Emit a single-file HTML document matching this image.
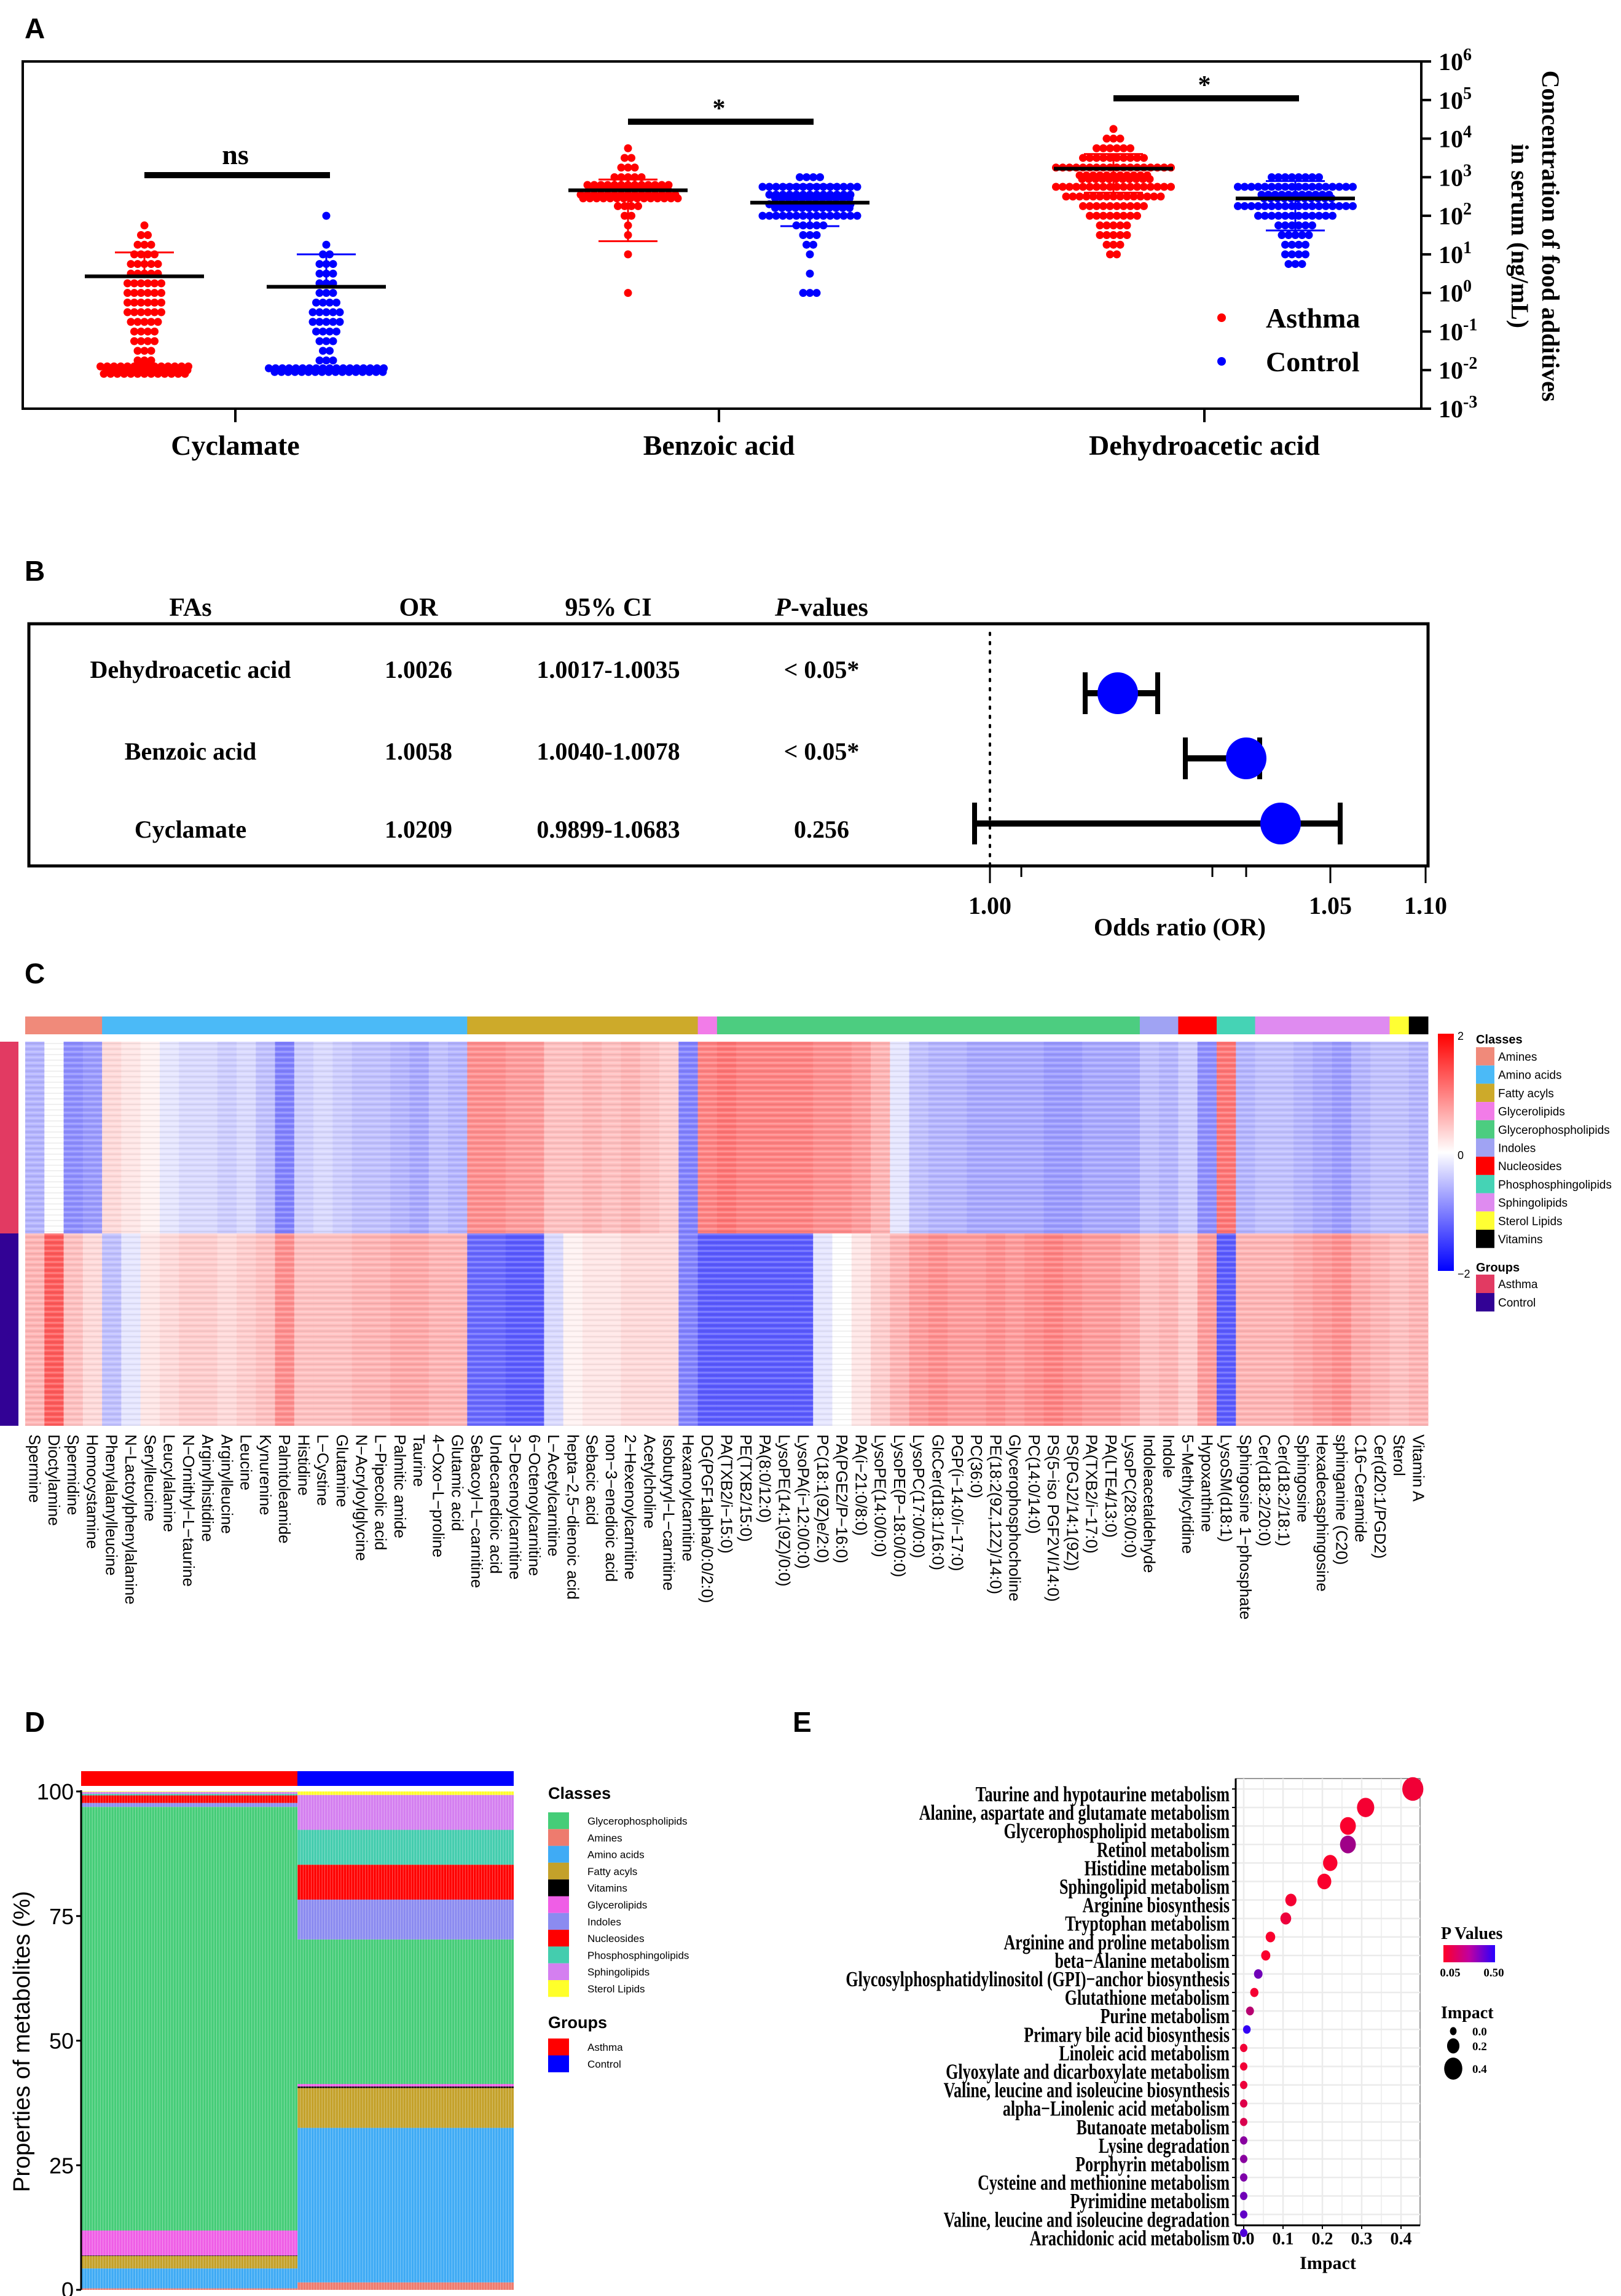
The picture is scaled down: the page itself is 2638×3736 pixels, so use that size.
<!DOCTYPE html>
<html><head><meta charset="utf-8"><style>
html,body{margin:0;padding:0;background:#fff;}
svg{display:block;}
.serif{font-family:"Liberation Serif",serif;font-weight:bold;}
.sans{font-family:"Liberation Sans",sans-serif;}
</style></head>
<body>
<svg id="fig" xmlns="http://www.w3.org/2000/svg" width="2638" height="3736" viewBox="0 0 2638 3736"></svg>
<script>
// ===== Panel A data =====
const aCategories = ["Cyclamate","Benzoic acid","Dehydroacetic acid"];
const aBinLogs = [-2,-1.75,-1.5,-1.25,-1,-0.75,-0.5,-0.25,0,0.25,0.5,0.75,1,1.25,1.5,1.75,2,2.25,2.5,2.75,3,3.25,3.5,3.75,4,4.25];
const cycAsthmaCounts = [40,3,3,4,4,5,6,6,6,6,5,5,4,3,2,1,0,0,0,0,0,0,0,0,0,0];
const cycControlCounts = [35,3,2,3,4,5,5,4,3,3,3,3,2,1,0,0,1,0,0,0,0,0,0,0,0,0];
const benAsthmaCounts = [0,0,0,0,0,0,0,0,1,0,0,0,1,0,1,1,2,4,30,25,5,3,2,1,0,0];
const benControlCounts = [0,0,0,0,0,0,0,0,3,0,1,0,1,2,3,5,15,25,25,15,4,0,0,0,0,0];
const dhaAsthmaCounts = [0,0,0,0,0,0,0,0,0,0,0,0,2,3,5,5,8,10,15,18,22,18,10,6,3,1];
const dhaControlCounts = [0,0,0,0,0,0,0,0,0,0,0,3,4,4,5,6,12,18,22,18,8,0,0,0,0,0];
const aMeans = [[0.43,0.16],[2.66,2.34],[3.22,2.45]];
const aUpper = [[1.05,1.0],[2.94,2.8],[3.6,2.9]];
const aLower = [[-4,-4],[1.34,1.73],[2.6,1.62]];
const aSig = ["ns","*","*"];
const aYTicks = [6,5,4,3,2,1,0,-1,-2,-3];

// ===== Panel B data =====
const bNames = ["Dehydroacetic acid","Benzoic acid","Cyclamate"];
const bOR = [1.0026,1.0058,1.0209];
const bLow = [1.0017,1.0040,0.9899];
const bHigh = [1.0035,1.0078,1.0683];
const bORText = ["1.0026","1.0058","1.0209"];
const bCIText = ["1.0017-1.0035","1.0040-1.0078","0.9899-1.0683"];
const bPText = ["< 0.05*","< 0.05*","0.256"];
const bTickVals = [1.0,1.00056,1.0048,1.0058,1.05,1.10];
const bTickLabels = ["1.00","","","","1.05","1.10"];

// ===== Panel C data =====
const cClasses = ["Amines","Amino acids","Fatty acyls","Glycerolipids","Glycerophospholipids","Indoles","Nucleosides","Phosphosphingolipids","Sphingolipids","Sterol Lipids","Vitamins"];
const cClassCounts = [4,19,12,1,22,2,2,2,7,1,1];
const cMetabolites = ["Spermine","Dioctylamine","Spermidine","Homocystamine","Phenylalanylleucine","N\u2212Lactoylphenylalanine","Serylleucine","Leucylalanine","N\u2212Ornithyl\u2212L\u2212taurine","Arginylhistidine","Arginylleucine","Leucine","Kynurenine","Palmitoleamide","Histidine","L\u2212Cystine","Glutamine","N\u2212Acryloylglycine","L\u2212Pipecolic acid","Palmitic amide","Taurine","4\u2212Oxo\u2212L\u2212proline","Glutamic acid","Sebacoyl\u2212L\u2212carnitine","Undecanedioic acid","3\u2212Decenoylcarnitine","6\u2212Octenoylcarnitine","L\u2212Acetylcarnitine","hepta\u22122,5\u2212dienoic acid","Sebacic acid","non\u22123\u2212enedioic acid","2\u2212Hexenoylcarnitine","Acetylcholine","Isobutyryl\u2212L\u2212carnitine","Hexanoylcarnitine","DG(PGF1alpha/0:0/2:0)","PA(TXB2/i\u221215:0)","PE(TXB2/15:0)","PA(8:0/12:0)","LysoPE(14:1(9Z)/0:0)","LysoPA(i\u221212:0/0:0)","PC(18:1(9Z)e/2:0)","PA(PGE2/P\u221216:0)","PA(i\u221221:0/8:0)","LysoPE(14:0/0:0)","LysoPE(P\u221218:0/0:0)","LysoPC(17:0/0:0)","GlcCer(d18:1/16:0)","PGP(i\u221214:0/i\u221217:0)","PC(36:0)","PE(18:2(9Z,12Z)/14:0)","Glycerophosphocholine","PC(14:0/14:0)","PS(5\u2212iso PGF2VI/14:0)","PS(PGJ2/14:1(9Z))","PA(TXB2/i\u221217:0)","PA(LTE4/13:0)","LysoPC(28:0/0:0)","Indoleacetaldehyde","Indole","5\u2212Methylcytidine","Hypoxanthine","LysoSM(d18:1)","Sphingosine 1\u2212phosphate","Cer(d18:2/20:0)","Cer(d18:2/18:1)","Sphingosine","Hexadecasphingosine","sphinganine (C20)","C16\u2212Ceramide","Cer(d20:1/PGD2)","Sterol","Vitamin A"];
const cAsthmaZ = [-0.6,0.0,-0.9,-0.8, 0.3,0.2,0.1,-0.2,-0.3,-0.3,-0.4,-0.3,-0.5,-1.0,-0.4,-0.3,-0.4,-0.5,-0.5,-0.6,-0.7,-0.5,-0.6, 0.9,0.9,0.8,0.8,0.5,0.5,0.6,0.5,0.6,0.5,0.4,-1.0, 1.0, 1.1,1.0,1.0,1.0,1.0,0.9,0.9,0.8,0.6,-0.2,-0.5,-0.6,-0.6,-0.7,-0.7,-0.7,-0.7,-0.8,-0.8,-0.7,-0.7,-0.7, -0.5,-0.6, -0.4,-0.9, 1.1,-0.6, -0.5,-0.5,-0.6,-0.7,-0.8,-0.6,-0.5, -0.5, -0.6];
const cControlZ = [0.6,1.3,0.5,0.3, -0.5,-0.2,0.2,0.3,0.4,0.4,0.3,0.4,0.5,0.9,0.5,0.5,0.5,0.6,0.6,0.7,0.7,0.6,0.6, -1.2,-1.2,-1.3,-1.3,-0.3,0.1,0.2,0.2,0.3,0.3,0.3,-1.0, -1.3, -1.3,-1.3,-1.3,-1.3,-1.3,-0.2,0.0,0.2,0.4,0.6,0.8,0.9,0.8,0.8,0.9,0.8,0.9,1.0,0.9,0.8,0.8,0.7, 0.5,0.6, 0.4,0.8, -1.3,0.6, 0.6,0.6,0.7,0.8,0.9,0.7,0.6, 0.5, 0.6];

// ===== Panel D data =====
const dClasses = ["Amines","Amino acids","Fatty acyls","Vitamins","Glycerolipids","Glycerophospholipids","Indoles","Nucleosides","Phosphosphingolipids","Sphingolipids","Sterol Lipids"];
const dAsthma = [0.3,4,2.5,0.1,5,85,0.8,1.5,0.3,0.4,0.1];
const dControl = [1.5,31,8,0.3,0.5,29,8,7,7,7,0.7];
const dLegendOrder = ["Glycerophospholipids","Amines","Amino acids","Fatty acyls","Vitamins","Glycerolipids","Indoles","Nucleosides","Phosphosphingolipids","Sphingolipids","Sterol Lipids"];
const dTicks = [0,25,50,75,100];

// ===== Panel E data =====
const ePathways = ["Taurine and hypotaurine metabolism","Alanine, aspartate and glutamate metabolism","Glycerophospholipid metabolism","Retinol metabolism","Histidine metabolism","Sphingolipid metabolism","Arginine biosynthesis","Tryptophan metabolism","Arginine and proline metabolism","beta\u2212Alanine metabolism","Glycosylphosphatidylinositol (GPI)\u2212anchor biosynthesis","Glutathione metabolism","Purine metabolism","Primary bile acid biosynthesis","Linoleic acid metabolism","Glyoxylate and dicarboxylate metabolism","Valine, leucine and isoleucine biosynthesis","alpha\u2212Linolenic acid metabolism","Butanoate metabolism","Lysine degradation","Porphyrin metabolism","Cysteine and methionine metabolism","Pyrimidine metabolism","Valine, leucine and isoleucine degradation","Arachidonic acid metabolism"];
const eImpact = [0.43,0.31,0.265,0.265,0.22,0.205,0.12,0.107,0.068,0.056,0.037,0.027,0.016,0.008,0,0,0,0,0,0,0,0,0,0,0];
const eP = [0.08,0.07,0.06,0.25,0.06,0.06,0.07,0.09,0.06,0.06,0.35,0.07,0.2,0.48,0.08,0.08,0.09,0.12,0.13,0.3,0.3,0.32,0.35,0.38,0.42];
const eTicks = [0,0.1,0.2,0.3,0.4];

// ===== helpers =====
const NS = "http://www.w3.org/2000/svg";
const svg = document.getElementById('fig');
function mk(tag, attrs, parent){
  const e = document.createElementNS(NS, tag);
  for (const k in attrs) e.setAttribute(k, attrs[k]);
  (parent || svg).appendChild(e);
  return e;
}
function tx(x, y, s, attrs, parent){
  const e = mk('text', Object.assign({x:x, y:y}, attrs), parent);
  e.textContent = s;
  return e;
}
function grp(parent){ return mk('g', {}, parent); }
const defs = mk('defs', {}, svg);

// ================= PANEL A =================
const gA = grp();


let t = tx(40, 62, "A", {class:"sans", "font-size":46, "font-weight":"bold"}, gA);


const aTop = 100, aBot = 665, aLeft = 37, aRight = 2313;
const yA = v => aTop + (6 - v) * (aBot - aTop) / 9;
const aCat = [383, 1170, 1960];
const aOff = 148;
let box = mk('rect', {x:aLeft, y:aTop, width:aRight-aLeft, height:aBot-aTop, fill:"none", stroke:"#000", "stroke-width":4}, gA);


aYTicks.forEach(k => {
  const y = yA(k);
  const l = mk('line', {x1:aRight, x2:aRight+16, y1:y, y2:y, stroke:"#000", "stroke-width":4}, gA);
  
  
  const tt = tx(aRight+28, y+14, "10", {class:"serif", "font-size":40}, gA);
  const sp = mk('tspan', {dy:-16, "font-size":28}, tt);
  sp.textContent = String(k);
  
  
});
let yt = mk('text', {transform:"translate(2510,384) rotate(90)", "text-anchor":"middle", class:"serif", "font-size":40}, gA);


let ts1 = mk('tspan', {x:0, dy:0}, yt); ts1.textContent = "Concentration of food additives";
let ts2 = mk('tspan', {x:0, dy:50}, yt); ts2.textContent = "in serum (ng/mL)";
const aCounts = [[cycAsthmaCounts, cycControlCounts],[benAsthmaCounts, benControlCounts],[dhaAsthmaCounts, dhaControlCounts]];
const aColors = ["#ff0000", "#0000ff"];
aCategories.forEach((c, ci) => {
  const l = mk('line', {x1:aCat[ci], x2:aCat[ci], y1:aBot, y2:aBot+22, stroke:"#000", "stroke-width":4}, gA);
  
  
  const lt = tx(aCat[ci], 740, c, {class:"serif", "font-size":46, "text-anchor":"middle"}, gA);
  
  
  [0,1].forEach(gi => {
    const cx = aCat[ci] + (gi === 0 ? -aOff : aOff);
    const counts = aCounts[ci][gi];
    const g = grp(gA);
    
    
    counts.forEach((n, bi) => {
      if (!n) return;
      const rows = Math.ceil(n / 18);
      let left = n;
      for (let r = 0; r < rows; r++) {
        const cnt = Math.min(18, Math.ceil(left / (rows - r)));
        left -= cnt;
        const y = yA(aBinLogs[bi]) + (r - (rows - 1) / 2) * 6;
        for (let i = 0; i < cnt; i++) {
          const x = cx + (i - (cnt - 1) / 2) * 11 + (r % 2) * 4;
          const d = mk('circle', {cx:x, cy:y, r:6.5, fill:aColors[gi]}, g);
          
          
        }
      }
    });
    const yU = Math.max(aTop, yA(aUpper[ci][gi]));
    const lowIn = yA(aLower[ci][gi]) < aBot;
    const yL = lowIn ? yA(aLower[ci][gi]) : yA(aMeans[ci][gi]);
    const eb = mk('line', {x1:cx, x2:cx, y1:yU, y2:yL, stroke:aColors[gi], "stroke-width":3}, gA);
    
    
    const capYs = lowIn ? [yU, yL] : [yU];
    capYs.forEach(yy => {
      const cap = mk('line', {x1:cx-48, x2:cx+48, y1:yy, y2:yy, stroke:aColors[gi], "stroke-width":3}, gA);
      
      
    });
    const ml = mk('line', {x1:cx-97, x2:cx+97, y1:yA(aMeans[ci][gi]), y2:yA(aMeans[ci][gi]), stroke:"#000", "stroke-width":6}, gA);
    
    
  });
  const sy = [285, 198, 160][ci];
  const sb = mk('line', {x1:aCat[ci]-aOff, x2:aCat[ci]+aOff+6, y1:sy, y2:sy, stroke:"#000", "stroke-width":10}, gA);
  
  
  const st = tx(aCat[ci], aSig[ci] === "ns" ? sy - 18 : sy - 8, aSig[ci], {class:"serif", "font-size":aSig[ci]==="ns"?46:42, "text-anchor":"middle"}, gA);
  
  
});
[["Asthma", 517, "#ff0000"], ["Control", 588, "#0000ff"]].forEach(([lab, y, col]) => {
  const d = mk('circle', {cx:1988, cy:y, r:7, fill:col}, gA);
  
  
  const lt = tx(2060, y + 16, lab, {class:"serif", "font-size":46}, gA);
  
  
});

// ================= PANEL B =================
const gB = grp();


t = tx(40, 945, "B", {class:"sans", "font-size":46, "font-weight":"bold"}, gB);


const bCols = [310, 681, 990, 1337];
["FAs","OR","95% CI"].forEach((h, i) => {
  const ht = tx(bCols[i], 1002, h, {class:"serif", "font-size":42, "text-anchor":"middle"}, gB);
  
  
});
let ph = tx(bCols[3], 1002, "", {class:"serif", "font-size":42, "text-anchor":"middle"}, gB);
let phI = mk('tspan', {"font-style":"italic"}, ph); phI.textContent = "P";
let phR = mk('tspan', {}, ph); phR.textContent = "-values";


const bTop = 1015, bBot = 1409, bLeft = 47, bRight = 2324;
box = mk('rect', {x:bLeft, y:bTop, width:bRight-bLeft, height:bBot-bTop, fill:"none", stroke:"#000", "stroke-width":5}, gB);


const orKnots = [0.9899,1.0,1.0017,1.0026,1.0035,1.0040,1.0058,1.0078,1.0209,1.05,1.0683,1.10];
const orPx = [1586,1611,1766,1819,1884,1929,2028,2050,2084,2165,2181,2320];
function xB(v){
  for (let i = 0; i < orKnots.length - 1; i++) {
    if (v <= orKnots[i+1]) return orPx[i] + (v - orKnots[i]) / (orKnots[i+1] - orKnots[i]) * (orPx[i+1] - orPx[i]);
  }
  return orPx[orPx.length-1];
}
const bRowY = [1128, 1234, 1340];
const bTextY = [1103, 1236, 1363];
let dl = mk('line', {x1:xB(1.0), x2:xB(1.0), y1:1030, y2:bBot, stroke:"#000", "stroke-width":4, "stroke-dasharray":"3 12", "stroke-linecap":"round"}, gB);


bNames.forEach((n, i) => {
  const vals = [n, bORText[i], bCIText[i], bPText[i]];
  vals.forEach((v, j) => {
    const c = tx(bCols[j], bTextY[i], v, {class:"serif", "font-size":40, "text-anchor":"middle"}, gB);
    
    
  });
  const y = bRowY[i];
  const x1 = xB(bLow[i]), x2 = xB(bHigh[i]);
  const ci = mk('line', {x1:x1, x2:x2, y1:y, y2:y, stroke:"#000", "stroke-width":10}, gB);
  
  
  [x1, x2].forEach(x => {
    const cap = mk('line', {x1:x, x2:x, y1:y-34, y2:y+34, stroke:"#000", "stroke-width":8}, gB);
    
    
  });
  const pt = mk('ellipse', {cx:xB(bOR[i]), cy:y, rx:33, ry:34, fill:"#0000ff"}, gB);
  
  
});
bTickVals.forEach((v, i) => {
  const x = xB(v);
  const tk = mk('line', {x1:x, x2:x, y1:bBot, y2:bBot + (bTickLabels[i] ? 28 : 18), stroke:"#000", "stroke-width":3}, gB);
  
  
  if (bTickLabels[i]) {
    const tl = tx(x, 1487, bTickLabels[i], {class:"serif", "font-size":40, "text-anchor":"middle"}, gB);
    
    
  }
});
t = tx(1920, 1522, "Odds ratio (OR)", {class:"serif", "font-size":40, "text-anchor":"middle"}, gB);



// ================= PANEL C =================
const gC = grp();


t = tx(40, 1600, "C", {class:"sans", "font-size":46, "font-weight":"bold"}, gC);


const classColors = {"Amines":"#f08a7a","Amino acids":"#4bbaf7","Fatty acyls":"#cdaa2a","Glycerolipids":"#f27ce8","Glycerophospholipids":"#4ccd80","Indoles":"#a0a3f3","Nucleosides":"#ff0000","Phosphosphingolipids":"#45d3b5","Sphingolipids":"#df8bf0","Sterol Lipids":"#ffff33","Vitamins":"#000000"};
const hX0 = 41, hX1 = 2324, hTop = 1695, hMid = 2007, hBot = 2320;
const colW = (hX1 - hX0) / cMetabolites.length;
function zColor(z){
  z = Math.max(-2, Math.min(2, z));
  if (z >= 0) { const f = z / 2; const g = Math.round(255 * (1 - f)); return `rgb(255,${g},${g})`; }
  const f = -z / 2; const g = Math.round(255 * (1 - f)); return `rgb(${g},${g},255)`;
}
let ci0 = 0;
cClasses.forEach((c, i) => {
  const r = mk('rect', {x:hX0 + ci0 * colW, y:1654, width:cClassCounts[i] * colW + 0.5, height:29, fill:classColors[c]}, gC);
  
  
  ci0 += cClassCounts[i];
});
let gr = mk('rect', {x:0, y:hTop, width:30, height:hMid-hTop, fill:"#e23a62"}, gC);


gr = mk('rect', {x:0, y:hMid, width:30, height:hBot-hMid, fill:"#320295"}, gC);


const pat = mk('pattern', {id:"stripes", width:10, height:9, patternUnits:"userSpaceOnUse"}, defs);
mk('rect', {x:0, y:0, width:10, height:3, fill:"#fff", "fill-opacity":0.22}, pat);
mk('rect', {x:0, y:5, width:10, height:2, fill:"#000", "fill-opacity":0.06}, pat);
cMetabolites.forEach((m, i) => {
  const x = hX0 + i * colW;
  const c1 = mk('rect', {x:x, y:hTop, width:colW + 0.5, height:hMid - hTop, fill:zColor(cAsthmaZ[i])}, gC);
  
  
  const c2 = mk('rect', {x:x, y:hMid, width:colW + 0.5, height:hBot - hMid, fill:zColor(cControlZ[i])}, gC);
  
  
  const lt = mk('text', {transform:`translate(${x + colW/2 - 9},2334) rotate(90)`, class:"sans", "font-size":26}, gC);
  lt.textContent = m;
  
  
});
let ov = mk('rect', {x:hX0, y:hTop, width:hX1-hX0, height:hBot-hTop, fill:"url(#stripes)"}, gC);


const lg = mk('linearGradient', {id:"zgrad", x1:0, y1:0, x2:0, y2:1}, defs);
mk('stop', {offset:"0", "stop-color":"#ff0000"}, lg);
mk('stop', {offset:"0.5", "stop-color":"#ffffff"}, lg);
mk('stop', {offset:"1", "stop-color":"#0000ff"}, lg);
let cb = mk('rect', {x:2340, y:1682, width:26, height:386, fill:"url(#zgrad)"}, gC);


[["2",1692],["0",1886],["\u22122",2079]].forEach(([s, y]) => {
  const l = tx(2372, y, s, {class:"sans", "font-size":18}, gC);
  
  
});
t = tx(2402, 1698, "Classes", {class:"sans", "font-size":20, "font-weight":"bold"}, gC);


cClasses.forEach((c, i) => {
  const y = 1704 + i * 29.7;
  const sq = mk('rect', {x:2402, y:y, width:30, height:29.7, fill:classColors[c]}, gC);
  
  
  const l = tx(2438, y + 22, c, {class:"sans", "font-size":19}, gC);
  
  
});
t = tx(2402, 2069, "Groups", {class:"sans", "font-size":20, "font-weight":"bold"}, gC);


[["Asthma","#e23a62"],["Control","#320295"]].forEach(([g, col], i) => {
  const y = 2074 + i * 30;
  const sq = mk('rect', {x:2402, y:y, width:30, height:30, fill:col}, gC);
  
  
  const l = tx(2438, y + 22, g, {class:"sans", "font-size":19}, gC);
  
  
});

// ================= PANEL D =================
const gD = grp();


t = tx(40, 2818, "D", {class:"sans", "font-size":46, "font-weight":"bold"}, gD);


const dColors = {"Glycerophospholipids":"#45cd78","Amines":"#ee7b6e","Amino acids":"#3fabf5","Fatty acyls":"#c4a12a","Vitamins":"#000000","Glycerolipids":"#ef5ee6","Indoles":"#8b8bf0","Nucleosides":"#ff0000","Phosphosphingolipids":"#44cdae","Sphingolipids":"#d47ff0","Sterol Lipids":"#ffff2a"};
const dL = 132, dR = 836, dSplit = 484, dTop = 2915, dBot = 3726;
const yD = v => dBot - v / 100 * (dBot - dTop);
let gb = mk('rect', {x:dL, y:2882, width:dSplit-dL, height:24, fill:"#ff0000"}, gD);


gb = mk('rect', {x:dSplit, y:2882, width:dR-dSplit, height:24, fill:"#0000ff"}, gD);


[[dAsthma, dL, dSplit, 'asthma'], [dControl, dSplit, dR, 'control']].forEach(([vals, x0, x1, nm]) => {
  let acc = 0;
  vals.forEach((v, i) => {
    const yTopSeg = yD(acc + v), yBotSeg = yD(acc);
    const r = mk('rect', {x:x0, y:yTopSeg, width:x1 - x0, height:yBotSeg - yTopSeg, fill:dColors[dClasses[i]]}, gD);
    
    
    acc += v;
  });
});
const vpat = mk('pattern', {id:"vstripes", width:4.4, height:10, patternUnits:"userSpaceOnUse"}, defs);
mk('rect', {x:0, y:0, width:1, height:10, fill:"#fff", "fill-opacity":0.35}, vpat);
ov = mk('rect', {x:dL, y:dTop, width:dR-dL, height:dBot-dTop, fill:"url(#vstripes)"}, gD);


let ax = mk('line', {x1:dL, x2:dL, y1:dTop-2, y2:dBot, stroke:"#000", "stroke-width":3}, gD);


dTicks.forEach(v => {
  const y = yD(v);
  const tk = mk('line', {x1:dL-8, x2:dL, y1:y, y2:y, stroke:"#000", "stroke-width":3}, gD);
  
  
  const tl = tx(dL-12, y + 13, String(v), {class:"sans", "font-size":36, "text-anchor":"end"}, gD);
  
  
});
t = tx(0, 0, "Properties of metabolites (%)", {transform:"translate(48,3322) rotate(-90)", class:"sans", "font-size":38, "text-anchor":"middle"}, gD);


t = tx(892, 2927, "Classes", {class:"sans", "font-size":27, "font-weight":"bold"}, gD);


dLegendOrder.forEach((c, i) => {
  const y = 2949 + i * 27.3;
  const sq = mk('rect', {x:892, y:y, width:34, height:27.3, fill:dColors[c]}, gD);
  
  
  const l = tx(956, y + 20, c, {class:"sans", "font-size":17}, gD);
  
  
});
t = tx(892, 3300, "Groups", {class:"sans", "font-size":27, "font-weight":"bold"}, gD);


[["Asthma","#ff0000"],["Control","#0000ff"]].forEach(([g, col], i) => {
  const y = 3317 + i * 27.5;
  const sq = mk('rect', {x:892, y:y, width:34, height:27.5, fill:col}, gD);
  
  
  const l = tx(956, y + 20, g, {class:"sans", "font-size":17}, gD);
  
  
});

// ================= PANEL E =================
const gE = grp();


t = tx(1290, 2818, "E", {class:"sans", "font-size":46, "font-weight":"bold"}, gE);


const eL = 2011, eR = 2311, eT = 2894, eB = 3621;
const xE = v => 2024 + v * 640;
const yE = i => 2911 + i * 30.1;
const rE = v => 6 + v * 26;
function pColor(p){
  const f = Math.max(0, Math.min(1, (p - 0.05) / 0.45));
  const r = Math.round(255 * (1 - f) + 40 * f), b = Math.round(40 * (1 - f) + 255 * f);
  return `rgb(${r},0,${b})`;
}
let bg = mk('rect', {x:eL, y:eT, width:eR-eL, height:eB-eT, fill:"#fff", stroke:"#333", "stroke-width":1}, gE);


[0,0.05,0.1,0.15,0.2,0.25,0.3,0.35,0.4].forEach((v, k) => {
  const g = mk('line', {x1:xE(v), x2:xE(v), y1:eT, y2:eB, stroke:"#ebebeb", "stroke-width":k%2===0?2.5:1.5}, gE);
  
  
});
ePathways.forEach((p, i) => {
  const g = mk('line', {x1:eL, x2:eR, y1:yE(i), y2:yE(i), stroke:"#ebebeb", "stroke-width":2.5}, gE);
  
  
});
let axl = mk('line', {x1:eL, x2:eL, y1:eT, y2:eB, stroke:"#000", "stroke-width":3}, gE);


axl = mk('line', {x1:eL, x2:eR, y1:eB, y2:eB, stroke:"#000", "stroke-width":3}, gE);


ePathways.forEach((p, i) => {
  const tk = mk('line', {x1:eL-6, x2:eL, y1:yE(i), y2:yE(i), stroke:"#000", "stroke-width":2}, gE);
  
  
  const l = tx(0, 0, p, {transform:`translate(${eL - 10},${yE(i) + 20}) scale(0.93,1.25)`, class:"serif", "font-size":28, "text-anchor":"end"}, gE);
  
  
  const d = mk('ellipse', {cx:xE(eImpact[i]), cy:yE(i), rx:rE(eImpact[i]), ry:rE(eImpact[i]) * 1.12, fill:pColor(eP[i])}, gE);
  
  
});
eTicks.forEach(v => {
  const tk = mk('line', {x1:xE(v), x2:xE(v), y1:eB, y2:eB+6, stroke:"#000", "stroke-width":2}, gE);
  
  
  const l = tx(xE(v), 3652, v.toFixed(1), {class:"serif", "font-size":28, "text-anchor":"middle"}, gE);
  
  
});
t = tx(2161, 3692, "Impact", {class:"serif", "font-size":30, "text-anchor":"middle"}, gE);


t = tx(2345, 3155, "P Values", {class:"serif", "font-size":28, "font-weight":"normal"}, gE);


const pg = mk('linearGradient', {id:"pgrad", x1:0, y1:0, x2:1, y2:0}, defs);
mk('stop', {offset:"0", "stop-color":"#ff0028"}, pg);
mk('stop', {offset:"0.5", "stop-color":"#c000a0"}, pg);
mk('stop', {offset:"1", "stop-color":"#2800ff"}, pg);
let pb = mk('rect', {x:2349, y:3165, width:84, height:28, fill:"url(#pgrad)"}, gE);


[["0.05",2360],["0.50",2431]].forEach(([s, x]) => {
  const l = tx(x, 3216, s, {class:"serif", "font-size":19, "font-weight":"normal", "text-anchor":"middle"}, gE);
  
  
});
t = tx(2345, 3284, "Impact", {class:"serif", "font-size":28, "font-weight":"normal"}, gE);


[[0.0,3305],[0.2,3329],[0.4,3366]].forEach(([v, y]) => {
  const d = mk('ellipse', {cx:2365, cy:y, rx:rE(v)*0.9, ry:rE(v)*1.1, fill:"#000"}, gE);
  
  
  const l = tx(2396, y + 7, v.toFixed(1), {class:"serif", "font-size":19, "font-weight":"normal"}, gE);
  
  
});
</script>
</body></html>
